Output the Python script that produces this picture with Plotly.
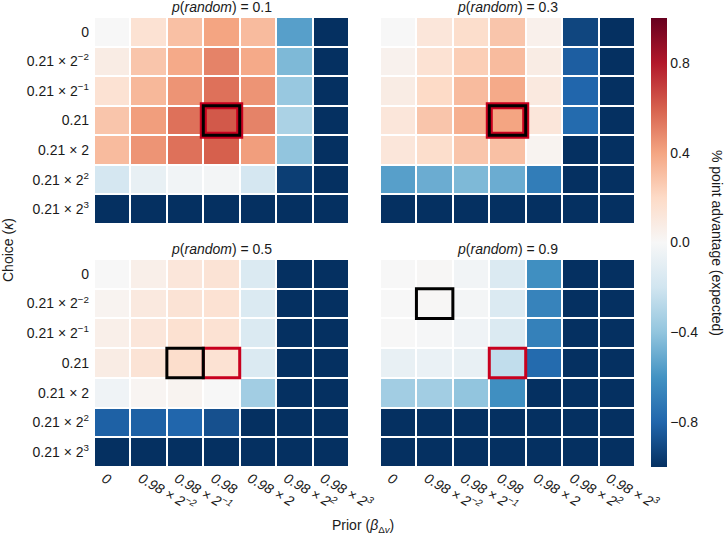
import plotly.graph_objects as go

# ---------------- data ----------------
x_labels = ["0", "0.98 × 2<sup>−2</sup>", "0.98 × 2<sup>−1</sup>", "0.98",
            "0.98 × 2", "0.98 × 2<sup>2</sup>", "0.98 × 2<sup>3</sup>"]
y_labels = ["0", "0.21 × 2<sup>−2</sup>", "0.21 × 2<sup>−1</sup>", "0.21",
            "0.21 × 2", "0.21 × 2<sup>2</sup>", "0.21 × 2<sup>3</sup>"]

panel_titles = ["<i>p</i>(<i>random</i>) = 0.1", "<i>p</i>(<i>random</i>) = 0.3",
                "<i>p</i>(<i>random</i>) = 0.5", "<i>p</i>(<i>random</i>) = 0.9"]

z_p01 = [
    [0.00, 0.15, 0.30, 0.40, 0.32, -0.55, -1.0],
    [0.08, 0.28, 0.38, 0.50, 0.38, -0.45, -1.0],
    [0.15, 0.33, 0.45, 0.55, 0.45, -0.38, -1.0],
    [0.28, 0.42, 0.55, 0.62, 0.50, -0.32, -1.0],
    [0.32, 0.45, 0.55, 0.60, 0.42, -0.40, -1.0],
    [-0.18, -0.08, -0.03, -0.02, -0.18, -0.95, -1.0],
    [-1.0, -1.0, -1.0, -1.0, -1.0, -1.0, -1.0],
]
z_p03 = [
    [0.00, 0.12, 0.18, 0.28, 0.05, -0.92, -1.0],
    [0.04, 0.15, 0.25, 0.32, 0.08, -0.83, -1.0],
    [0.08, 0.20, 0.32, 0.38, 0.10, -0.80, -1.0],
    [0.12, 0.28, 0.36, 0.40, 0.12, -0.78, -1.0],
    [0.12, 0.18, 0.28, 0.30, 0.03, -1.0, -1.0],
    [-0.55, -0.50, -0.45, -0.50, -0.70, -1.0, -1.0],
    [-1.0, -1.0, -1.0, -1.0, -1.0, -1.0, -1.0],
]
z_p05 = [
    [0.00, 0.06, 0.12, 0.14, -0.15, -1.0, -1.0],
    [0.03, 0.10, 0.14, 0.15, -0.15, -1.0, -1.0],
    [0.06, 0.12, 0.16, 0.15, -0.15, -1.0, -1.0],
    [0.08, 0.14, 0.18, 0.15, -0.15, -1.0, -1.0],
    [-0.04, 0.02, 0.03, 0.00, -0.35, -1.0, -1.0],
    [-0.82, -0.82, -0.80, -0.88, -1.0, -1.0, -1.0],
    [-1.0, -1.0, -1.0, -1.0, -1.0, -1.0, -1.0],
]
z_p09 = [
    [0.00, 0.01, -0.03, -0.15, -0.62, -1.0, -1.0],
    [0.00, 0.01, -0.02, -0.15, -0.67, -1.0, -1.0],
    [0.00, -0.01, -0.04, -0.15, -0.68, -1.0, -1.0],
    [-0.08, -0.07, -0.08, -0.25, -0.78, -1.0, -1.0],
    [-0.35, -0.35, -0.40, -0.62, -1.0, -1.0, -1.0],
    [-1.0, -1.0, -1.0, -1.0, -1.0, -1.0, -1.0],
    [-1.0, -1.0, -1.0, -1.0, -1.0, -1.0, -1.0],
]
panels = [z_p01, z_p03, z_p05, z_p09]

# highlighted cells (column index, row index) per panel
black_cells = [(3, 3), (3, 3), (2, 3), (1, 1)]
red_cells = [(3, 3), (3, 3), (3, 3), (3, 3)]

cbar_ticks = [-0.8, -0.4, 0.0, 0.4, 0.8]
cbar_ticktext = ["−0.8", "−0.4", "0.0", "0.4", "0.8"]

# ---------------- styling ----------------
W, H = 726, 536
FONT = "Liberation Sans, Arial, Helvetica, sans-serif"
TXT = "#1a1a1a"
rdbu_r = ["#053061", "#2166ac", "#4393c3", "#92c5de", "#d1e5f0", "#f7f7f7",
          "#fddbc7", "#f4a582", "#d6604d", "#b2182b", "#67001f"]
colorscale = [[i / 10, c] for i, c in enumerate(rdbu_r)]

xdoms = [(94 / W, 349 / W), (380 / W, 635 / W)]
ydoms = [(1 - 224 / H, 1 - 17 / H), (1 - 467 / H, 1 - 259 / H)]

fig = go.Figure()
idx = list(range(len(x_labels)))
idy = list(range(len(y_labels)))

for k, z in enumerate(panels):
    r, c = divmod(k, 2)
    xa = "x" if k == 0 else f"x{k+1}"
    ya = "y" if k == 0 else f"y{k+1}"
    fig.add_trace(go.Heatmap(
        z=z, x=idx, y=idy, xaxis=xa, yaxis=ya,
        colorscale=colorscale, zmin=-1, zmax=1, xgap=2, ygap=2,
        showscale=(k == 0),
        colorbar=dict(
            thickness=16, len=(467 - 18) / H, lenmode="fraction",
            x=651 / W, xanchor="left", xpad=0, y=1 - 18 / H, yanchor="top", ypad=0,
            tickvals=cbar_ticks, ticktext=cbar_ticktext, ticks="",
            tickfont=dict(family=FONT, size=14, color=TXT),
            outlinewidth=0,
        ),
        hoverinfo="skip",
    ))
    axn = "" if k == 0 else str(k + 1)
    fig.layout[f"xaxis{axn}"] = dict(
        domain=xdoms[c], anchor=ya, range=[-0.5, 6.5], automargin=False,
        tickvals=idx, ticktext=x_labels, showticklabels=(r == 1),
        tickangle=30, ticks="", showgrid=False, zeroline=False, showline=False,
        ticklabelshift=-8,
        tickfont=dict(family=FONT, size=14, color=TXT, style="italic"),
    )
    fig.layout[f"yaxis{axn}"] = dict(
        domain=ydoms[r], anchor=xa, range=[6.5, -0.5], automargin=False,
        tickvals=idy, ticktext=y_labels, showticklabels=(c == 0),
        ticks="", showgrid=False, zeroline=False, showline=False,
        ticklabelstandoff=4,
        tickfont=dict(family=FONT, size=14, color=TXT),
    )
    # panel title
    fig.add_annotation(
        text=panel_titles[k], xref="paper", yref="paper",
        x=(xdoms[c][0] + xdoms[c][1]) / 2, y=ydoms[r][1],
        xanchor="center", yanchor="bottom", showarrow=False,
        font=dict(family=FONT, size=14, color=TXT),
    )
    # highlighted cells
    rc, rr = red_cells[k]
    bc, br = black_cells[k]
    same = (rc, rr) == (bc, br)
    fig.add_shape(type="rect", xref=xa, yref=ya,
                  x0=rc - 0.5, x1=rc + 0.5, y0=rr - 0.5, y1=rr + 0.5,
                  line=dict(color="#c8001e", width=7 if same else 3))
    fig.add_shape(type="rect", xref=xa, yref=ya,
                  x0=bc - 0.5, x1=bc + 0.5, y0=br - 0.5, y1=br + 0.5,
                  line=dict(color="#000000", width=3))

# shared axis titles and colorbar title
fig.add_annotation(text="Choice (<i>κ</i>)", xref="paper", yref="paper",
                   x=8 / W, y=1 - 250 / H, textangle=-90, showarrow=False,
                   xanchor="center", yanchor="middle",
                   font=dict(family=FONT, size=14, color=TXT))
fig.add_annotation(text="Prior (<i>β</i><sub>Δ<i>v</i></sub>)", xref="paper", yref="paper",
                   x=363 / W, y=1 - 526 / H, showarrow=False,
                   xanchor="center", yanchor="middle",
                   font=dict(family=FONT, size=14, color=TXT))
fig.add_annotation(text="% point advantage (expected)", xref="paper", yref="paper",
                   x=717 / W, y=1 - 243 / H, textangle=90, showarrow=False,
                   xanchor="center", yanchor="middle",
                   font=dict(family=FONT, size=14, color=TXT))

fig.update_layout(
    width=W, height=H, margin=dict(l=0, r=0, t=0, b=0, autoexpand=False),
    paper_bgcolor="white", plot_bgcolor="white",
    font=dict(family=FONT, size=14, color=TXT),
)

fig.write_html("out.html", config={"displayModeBar": False},
               post_script="document.body.style.margin='0';")
